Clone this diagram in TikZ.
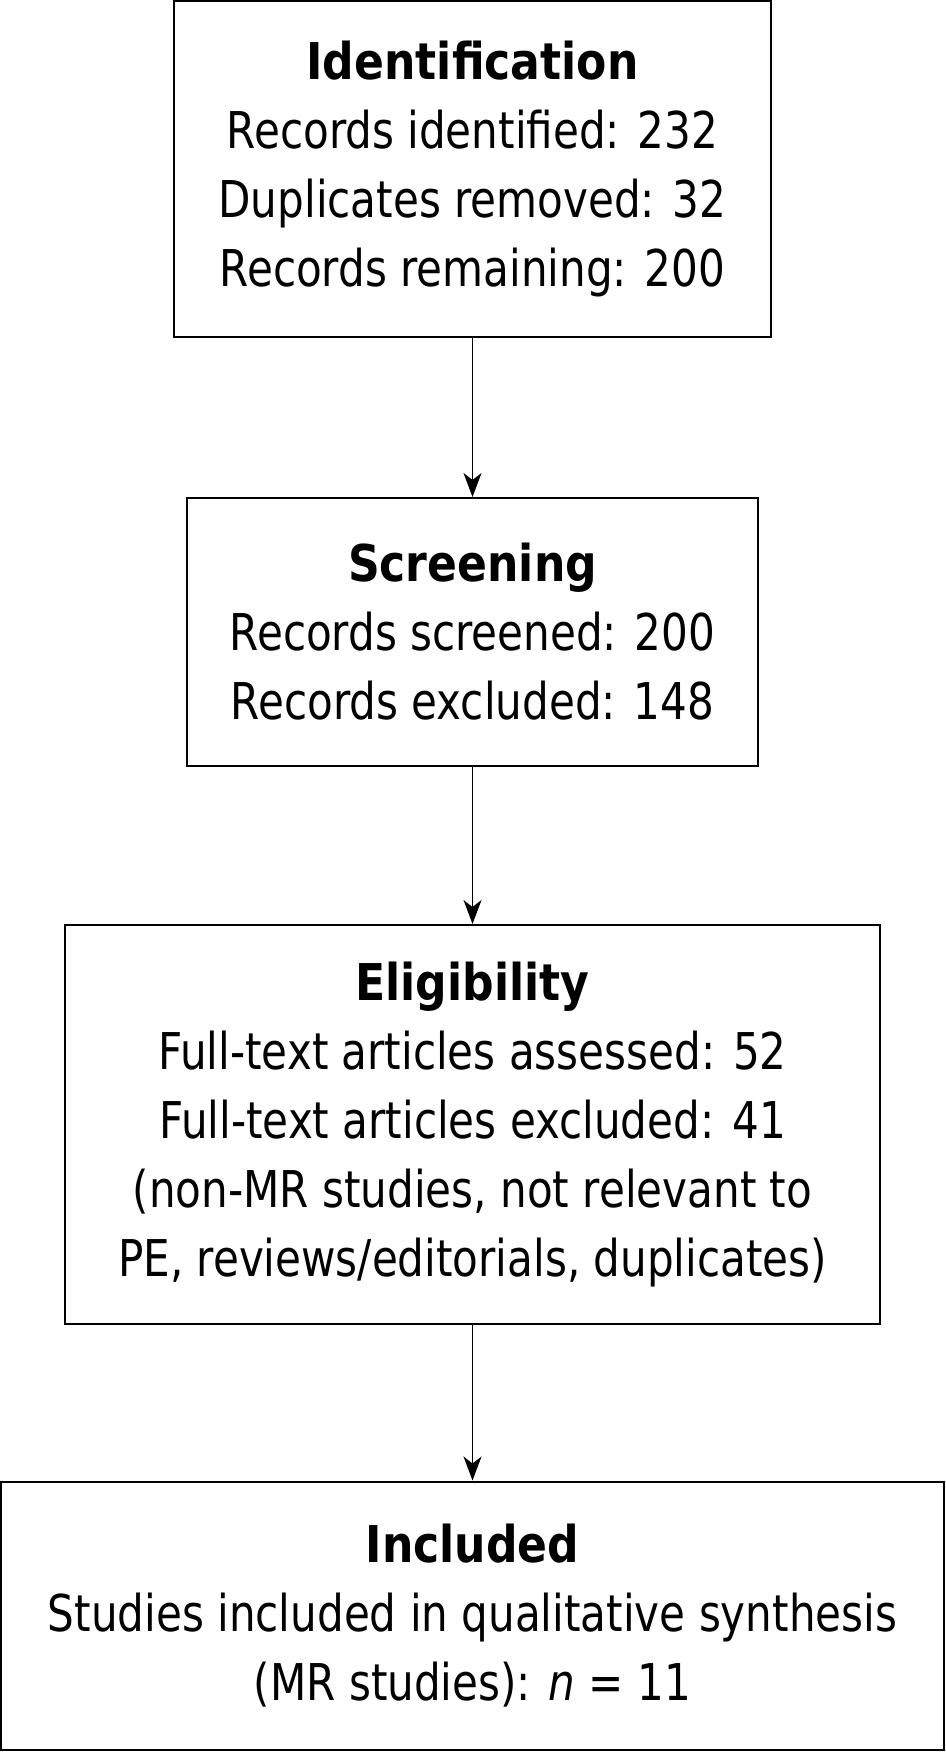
\documentclass[tikz,border=0pt]{standalone}
\usepackage{fontspec}
\setmainfont{DejaVu Sans}[FakeStretch=0.83, BoldFeatures={FakeStretch=0.87}]
\usetikzlibrary{arrows.meta}
\tikzset{
  box/.style={draw, line width=2pt, align=center, inner sep=0pt,
    font=\fontsize{50.7}{69}\selectfont},
  conn/.style={line width=1.5pt, -{Stealth[length=24pt,width=18pt,inset=7pt]}}
}
\begin{document}
\begin{tikzpicture}[x=1pt,y=-1pt]
\useasboundingbox (0,0) rectangle (945,1752);
\node[box, minimum width=597pt, minimum height=336pt] (id) at (472.5,169)
  {{\bfseries Identification}\\Records identified: 232\\Duplicates removed: 32\\Records remaining: 200};
\node[box, minimum width=571pt, minimum height=268pt] (sc) at (472.5,632)
  {{\bfseries Screening}\\Records screened: 200\\Records excluded: 148};
\node[box, minimum width=815pt, minimum height=399pt] (el) at (472.5,1124.5)
  {{\bfseries Eligibility}\\Full-text articles assessed: 52\\Full-text articles excluded: 41\\(non-MR studies, not relevant to\\PE, reviews/editorials, duplicates)};
\node[box, minimum width=943pt, minimum height=268pt] (in) at (472.5,1615.5)
  {{\bfseries Included}\\Studies included in qualitative synthesis\\(MR studies): \textit{n} = 11};
\draw[conn] (id) -- (sc);
\draw[conn] (sc) -- (el);
\draw[conn] (el) -- (in);
\end{tikzpicture}
\end{document}
